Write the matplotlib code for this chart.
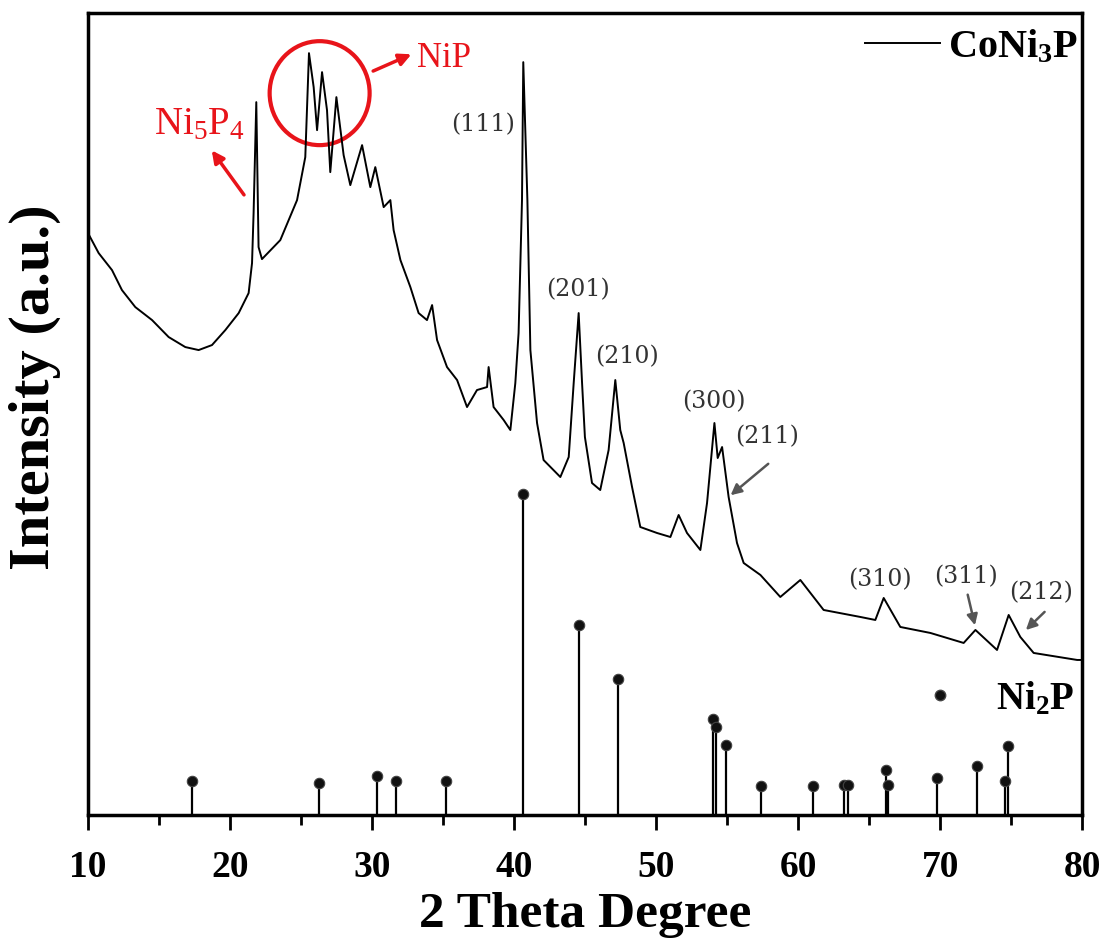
import numpy as np
import matplotlib
matplotlib.use("Agg")
import matplotlib.pyplot as plt
from matplotlib.patches import Ellipse
from matplotlib.lines import Line2D

plt.rcParams['font.family'] = ['Liberation Serif', 'DejaVu Serif']
plt.rcParams['mathtext.fontset'] = 'custom'
plt.rcParams['mathtext.rm'] = 'Liberation Serif'
plt.rcParams['mathtext.bf'] = 'Liberation Serif:bold'
plt.rcParams['mathtext.it'] = 'Liberation Serif:italic'

# CoNi3P pattern (2theta in degrees, intensity in a.u.)
two_theta = [10.0, 10.75, 11.69, 12.39, 13.33, 14.51, 15.68, 16.85, 17.79, 18.73,
             19.67, 20.61, 21.31, 21.55, 21.66, 21.85, 22.01, 22.25, 23.54, 24.72,
             25.30, 25.56, 25.89, 26.13, 26.48, 26.83, 27.06, 27.49, 28.00, 28.47,
             29.30, 29.88, 30.23, 30.82, 31.29, 31.52, 32.00, 32.70, 33.28, 33.87,
             34.23, 34.58, 35.28, 35.99, 36.69, 37.39, 38.10, 38.21, 38.56, 39.27,
             39.74, 40.09, 40.32, 40.56, 40.65, 40.94, 41.15, 41.62, 42.08, 43.26,
             43.85, 44.20, 44.55, 44.79, 44.99, 45.49, 46.07, 46.66, 47.13, 47.48,
             47.72, 48.31, 48.89, 50.07, 51.01, 51.59, 52.18, 53.12, 53.59, 54.11,
             54.34, 54.65, 55.11, 55.70, 56.17, 57.35, 58.75, 60.16, 61.80, 64.39,
             65.44, 66.03, 67.20, 69.32, 71.66, 72.49, 74.01, 74.83, 75.65, 76.59,
             79.65, 80.0]
intensity = [582, 562, 545, 525, 508, 495, 478, 468, 465, 470,
             485, 502, 522, 552, 602, 713, 568, 556, 575, 615,
             658, 762, 728, 685, 743, 705, 643, 718, 660, 630,
             670, 628, 648, 608, 615, 585, 555, 528, 502, 495,
             510, 475, 448, 435, 408, 425, 428, 448, 408, 395,
             385, 432, 482, 615, 753, 615, 465, 392, 355, 338,
             358, 432, 502, 432, 378, 332, 325, 365, 435, 385,
             372, 328, 288, 282, 278, 300, 282, 265, 312, 392,
             357, 368, 318, 272, 252, 240, 218, 235, 205, 198,
             195, 217, 188, 182, 172, 185, 165, 200, 178, 162,
             155, 155]

# Ni2P reference lines
ni2p_pos = [17.3, 26.3, 30.35, 31.7, 35.2, 40.65, 44.55, 47.3, 54.0, 54.24,
            54.94, 57.4, 61.06, 63.25, 63.5, 66.2, 66.3, 69.8, 72.6, 74.6, 74.8]
ni2p_int = [34, 32, 39, 34, 34, 321, 190, 136, 96, 88,
            70, 29, 29, 30, 30, 45, 30, 37, 49, 34, 69]

# hkl labels
hkl_labels = ['(111)', '(201)', '(210)', '(300)', '(211)', '(310)', '(311)', '(212)']
hkl_x = [37.85, 44.5, 47.95, 54.1, 57.8, 65.8, 71.85, 77.1]
hkl_y = [690, 525, 458, 413, 378, 235, 238, 222]

fig = plt.figure(figsize=(11.07, 9.41), dpi=100)
ax = fig.add_axes([0.0795, 0.134, 0.898, 0.852])

line, = ax.plot(two_theta, intensity, color='black', lw=1.4)
ax.vlines(ni2p_pos, 0, ni2p_int, color='black', lw=1.6)
ax.plot(ni2p_pos, ni2p_int, 'o', ms=7.5, mfc='#111111', mec='#444444', mew=0.8)

for lab, x, y in zip(hkl_labels, hkl_x, hkl_y):
    ax.text(x, y, lab, ha='center', va='center', fontsize=17, color='#333333',
            family='DejaVu Serif')

gray_arrow = dict(arrowstyle='-|>', color='#555555', lw=1.8, mutation_scale=16)
ax.annotate('', xy=(55.1, 318), xytext=(58.05, 353), arrowprops=gray_arrow)
ax.annotate('', xy=(72.5, 187), xytext=(71.9, 223), arrowprops=gray_arrow)
ax.annotate('', xy=(75.9, 183), xytext=(77.5, 205), arrowprops=gray_arrow)

# red annotations
red = '#e8141a'
ax.text(17.85, 690, r'Ni$_5$P$_4$', ha='center', va='center', fontsize=28, color=red)
ax.annotate('', xy=(18.6, 667), xytext=(21.1, 618),
            arrowprops=dict(arrowstyle='-|>', color=red, lw=2.5, mutation_scale=18))
ax.add_patch(Ellipse((26.31, 722), 7.04, 104, fill=False, ec=red, lw=3))
ax.annotate('', xy=(32.95, 762), xytext=(29.9, 743),
            arrowprops=dict(arrowstyle='-|>', color=red, lw=2.5, mutation_scale=18))
ax.text(35.1, 757, 'NiP', ha='center', va='center', fontsize=25, color=red)

# legends
leg1 = ax.legend([line], [r'CoNi$_\mathbf{3}$P'], loc='center right',
                 bbox_to_anchor=(1.0, 0.9576), frameon=False,
                 prop=dict(size=29, weight='bold'), handlelength=1.85,
                 borderaxespad=0, borderpad=0.1, handletextpad=0.2)
ax.add_artist(leg1)
ball = Line2D([], [], ls='none', marker='o', ms=7.5, mfc='#111111', mec='#444444')
ax.legend([ball], [r'Ni$_\mathbf{2}$P'], loc='center right', bbox_to_anchor=(1.0, 0.1446),
          frameon=False, prop=dict(size=28, weight='bold'), handlelength=2.0,
          handletextpad=0.45, borderaxespad=0, borderpad=0.2)

ax.set_xlim(10, 80)
ax.set_ylim(0, 802)
ax.set_xticks(np.arange(10, 81, 10))
ax.set_xticks(np.arange(15, 80, 10), minor=True)
ax.set_yticks([])
ax.tick_params(axis='x', which='major', direction='out', length=11, width=2,
               labelsize=27, pad=14)
ax.tick_params(axis='x', which='minor', direction='out', length=7, width=2)
for lbl in ax.get_xticklabels():
    lbl.set_fontweight('bold')
for s in ax.spines.values():
    s.set_linewidth(2.5)

ax.set_xlabel('2 Theta Degree', fontsize=37, fontweight='bold', labelpad=5)
ax.set_ylabel('Intensity (a.u.)', fontsize=42, fontweight='bold')
ax.yaxis.set_label_coords(-0.027, 0.534)

fig.savefig('out.png', dpi=100)
